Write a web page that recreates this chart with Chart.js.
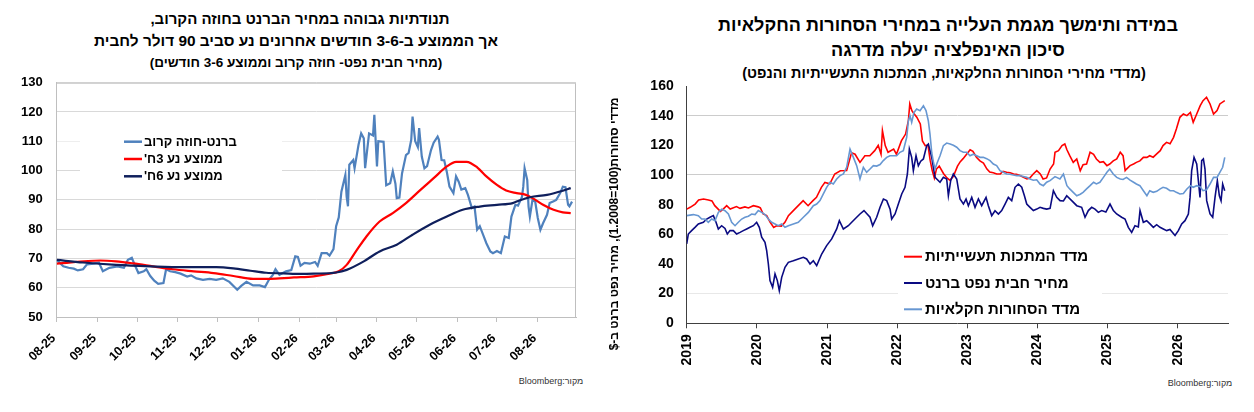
<!DOCTYPE html>
<html lang="he">
<head>
<meta charset="utf-8">
<script src="https://cdn.jsdelivr.net/npm/chart.js@4.4.1/dist/chart.umd.min.js"></script>
<style>
html,body{margin:0;padding:0;background:#fff;}
body{width:1254px;height:412px;position:relative;overflow:hidden;font-family:"Liberation Sans",Arial,sans-serif;}
.t{position:absolute;direction:rtl;text-align:center;font-weight:bold;color:#000;white-space:nowrap;line-height:1;transform:translate(-50%,-50%);}
.src{position:absolute;direction:rtl;font-size:9px;color:#333;white-space:nowrap;line-height:1;transform:translate(-50%,-50%);}
#lc{position:absolute;left:0;top:0;}
#rc{position:absolute;left:600px;top:0;}
</style>
</head>
<body>
<div class="t" style="left:300px;top:18px;font-size:15px;">תנודתיות גבוהה במחיר הברנט בחוזה הקרוב,</div>
<div class="t" style="left:296px;top:41px;font-size:15.4px;">אך הממוצע ב-3-6 חודשים אחרונים נע סביב 90 דולר לחבית</div>
<div class="t" style="left:296px;top:63px;font-size:13.5px;">(מחיר חבית נפט- חוזה קרוב וממוצע 3-6 חודשים)</div>
<div class="src" style="left:551px;top:381px;">מקור:Bloomberg</div>

<div class="t" style="left:948px;top:25px;font-size:18px;">במידה ותימשך מגמת העלייה במחירי הסחורות החקלאיות</div>
<div class="t" style="left:948px;top:50px;font-size:18px;">סיכון האינפלציה יעלה מדרגה</div>
<div class="t" style="left:944px;top:73px;font-size:14.5px;">(מדדי מחירי הסחורות החלקאיות, המתכות התעשייתיות והנפט)</div>
<div class="src" style="left:1200px;top:383px;">מקור:Bloomberg</div>

<canvas id="lc" width="600" height="412" style="width:600px;height:412px;"></canvas>
<canvas id="rc" width="654" height="412" style="width:654px;height:412px;"></canvas>

<script>
// ================= LEFT CHART DATA (x = days since 2025-08-01) =================
const leftMonthLabels = ['08-25','09-25','10-25','11-25','12-25','01-26','02-26','03-26','04-26','05-26','06-26','07-26','08-26'];
const leftSeriesLabels = ['ברנט-חוזה קרוב', "ממוצע נע 3ח'", "ממוצע נע 6ח'"];

const brentDays = [0,5,9,13,16,20,23,28,32,35,40,46,51,54,57,59,62,66,68,71,74,77,81,83,86,90,94,99,102,106,111,116,121,126,131,137,140,144,149,154,158,161,164,166,169,174,178,181,183,185,188,192,196,198,201,205,207,210,212,214,216,219,220,221,222,225,226,229,231,233,234,235,237,240,241,243,244,248,250,253,255,257,258,260,262,265,267,269,270,272,274,275,277,279,281,284,286,289,290,292,294,296,298,301,303,305,307,310,312,315,317,319,321,324,326,329,331,334,337,340,343,345,348,350,353,354,355,357,358,359,361,363,365,367,369,372,374,377,379,382,384,386,388,389,391];
const brentPrice = [69.5,67.3,66.8,66.5,65.9,66.3,68,68.2,68.6,65.6,66.8,67.3,66.8,69.5,70.2,68,65,65.6,66.3,64,62.4,61.3,61.6,66.3,65.6,65.3,64.8,63.8,64.2,63.2,62.7,63,62.7,63.2,62,59.3,60.6,62,60.8,60.8,60.2,62.7,64.4,66.3,64.4,65.6,66,70.7,70.5,67.5,68.5,68.2,68.8,67.5,71.8,71.8,71,73.2,81,84,92.8,98.5,91,87.8,102,103.6,100.8,108.8,112.7,111,100.8,104.8,112.7,112,119,101.4,110,109.8,95,95.7,99.7,95.5,90.6,90.8,99,105.3,106,110.5,118.4,110,108,114.5,104.8,100.8,101.5,107,109.5,111.6,110.5,103.6,103.5,99.5,94.5,92.3,98,96.2,93.5,94,91.7,87.2,87.7,79.8,81,77.5,75.2,72.4,71.8,72.5,71.8,77.5,77,84.3,88.3,88,91,94.5,100.8,96.8,87.7,84.3,90,89.5,83.8,79.8,82,84.9,88.9,89.5,90,92.3,94.5,94.3,88.3,87.8,89.4];

const ma3Days  = [0,33,45,58,73,88,104,119,134,149,159,169,180,195,207,214,220,227,235,245,255,265,276,286,296,303,311,319,326,334,341,349,356,361,369,377,384,390];
const ma3Price = [68.2,69.3,69,68.3,67.3,66.3,65.6,65,64,63,63,63.2,63.5,63.9,64.8,65.6,67.8,72.4,77.5,82.6,85.5,88.9,93.4,97.4,101.4,103,103,101.1,98,95.1,93.2,92.3,91.7,90.6,88.3,86.6,85.7,85.5];

const ma6Days  = [0,20,45,71,96,121,134,147,159,172,185,195,212,220,233,245,258,270,283,296,308,321,334,346,351,359,372,384,390];
const ma6Price = [69.5,68.6,67.8,67.3,67,67,66.6,65.8,65.1,64.9,64.7,64.8,65.2,66.1,69,72.4,74.7,78.1,81.5,84.3,86.6,87.7,88.3,88.9,89.8,90.9,91.7,93.1,94];

// ================= RIGHT CHART DATA (x = years since 2019-01-01) =================
const yearLabels = ['2019','2020','2021','2022','2023','2024','2025','2026'];
const rightSeriesLabels = ['מדד המתכות תעשייתיות','מחיר חבית נפט ברנט','מדד הסחורות חקלאיות'];
const rightAxisTitle = 'מדדי סחורות(100=1.2008), מחיר נפט ברנט ב-$';

const metalsT = [0,0.05,0.12,0.17,0.24,0.31,0.36,0.40,0.48,0.52,0.57,0.62,0.71,0.76,0.83,0.88,0.95,1.02,1.05,1.09,1.14,1.19,1.24,1.28,1.35,1.40,1.45,1.52,1.59,1.66,1.73,1.80,1.85,1.92,1.97,2.04,2.11,2.19,2.28,2.35,2.40,2.47,2.54,2.61,2.68,2.73,2.77,2.79,2.83,2.87,2.95,2.99,3.06,3.12,3.16,3.18,3.21,3.23,3.28,3.33,3.36,3.40,3.44,3.47,3.50,3.53,3.56,3.60,3.66,3.71,3.75,3.80,3.86,3.90,3.94,3.99,4.04,4.08,4.13,4.18,4.23,4.28,4.32,4.37,4.42,4.47,4.51,4.56,4.61,4.66,4.70,4.75,4.80,4.85,4.89,4.94,4.99,5.04,5.08,5.13,5.18,5.23,5.25,5.30,5.35,5.39,5.42,5.46,5.51,5.56,5.61,5.65,5.70,5.75,5.80,5.84,5.89,5.94,5.99,6.03,6.08,6.13,6.18,6.22,6.25,6.27,6.32,6.37,6.41,6.46,6.51,6.56,6.60,6.65,6.70,6.75,6.79,6.84,6.89,6.94,6.98,7.03,7.08,7.13,7.18,7.22,7.27,7.32,7.36,7.41,7.46,7.51,7.56,7.60,7.67];
const metalsV = [77,78.2,80.4,83.1,83.8,83.1,82.5,79.3,75.5,77,79.3,77,78.7,77.5,78.5,77.8,79.3,78.5,77.8,73.7,72.6,68.1,64.7,65.8,65.5,68.1,72.6,76,79.3,82.7,79.3,82.7,84.9,91.7,95,94,100.7,102.9,103,115,114,108.5,113,113,116.4,120,114,130,119.8,115.3,117.5,114,123,127.6,136.6,147.9,143.4,142,139,134.4,123,119.8,120,110,103,98,104,106,101,98,96.5,99,106,109,111,114,117,116,112,109.5,108,104,102,101.5,100.7,100.7,102.5,101.8,101.5,100.7,100.5,99.6,98.4,97.3,98,100.7,102.9,100.7,97.3,98,104,107.4,115.3,116.4,119.8,120.9,117,113,108.5,110.8,102.9,107,107.4,115.3,114,110.8,108.5,109,106.3,107.4,109.5,110.8,115.3,113,102.9,104,106.3,107.4,108.5,109.5,111.9,111.9,113,112,114.2,116.4,119.8,122,121,125.4,131,138.9,141.1,140,142.2,135.5,141.1,146.7,150.1,152.4,147.9,141.1,143.4,147.9,150.1];

const brentT = [0,0.023,0.07,0.118,0.166,0.237,0.285,0.332,0.38,0.418,0.451,0.498,0.546,0.579,0.617,0.665,0.712,0.76,0.807,0.855,0.902,0.95,0.997,1.035,1.069,1.116,1.14,1.164,1.187,1.225,1.259,1.292,1.32,1.354,1.401,1.449,1.52,1.591,1.663,1.71,1.758,1.805,1.853,1.924,1.995,2.067,2.138,2.176,2.233,2.304,2.352,2.423,2.47,2.527,2.565,2.613,2.651,2.708,2.756,2.804,2.851,2.899,2.922,2.97,3.017,3.065,3.112,3.146,3.174,3.207,3.231,3.269,3.302,3.336,3.374,3.421,3.445,3.469,3.493,3.516,3.54,3.564,3.611,3.659,3.706,3.73,3.763,3.801,3.849,3.896,3.944,3.982,4.015,4.063,4.11,4.158,4.205,4.267,4.3,4.348,4.395,4.443,4.49,4.538,4.585,4.633,4.68,4.728,4.776,4.814,4.847,4.894,4.942,4.99,5.037,5.085,5.132,5.18,5.227,5.275,5.322,5.37,5.417,5.488,5.56,5.63,5.678,5.725,5.773,5.82,5.868,5.915,5.975,6.034,6.082,6.129,6.2,6.248,6.295,6.343,6.39,6.438,6.462,6.509,6.557,6.604,6.652,6.699,6.747,6.794,6.842,6.889,6.961,7.008,7.056,7.103,7.151,7.175,7.198,7.232,7.27,7.317,7.341,7.365,7.388,7.412,7.46,7.498,7.531,7.564,7.593,7.617,7.64,7.669];
const brentV = [53.5,60.2,62.5,64.7,67,68.1,70.3,71.5,72.6,68.1,63.6,65.8,64,60.2,62.5,62.5,60.2,61.3,62.5,63.6,64.7,65.8,68.1,64.7,58,54.6,49,40,28.8,24.3,33.3,28.8,22,31,37.8,41.1,42.2,43.4,44.5,43.4,40,42.2,38.9,46.7,52.4,56.9,63.6,69.2,63.6,65.8,68.1,71.5,73.7,76,74,71.5,65.8,71.5,78.2,83.8,82.7,77,70.3,73.7,80.4,87.2,91.7,100.7,117.5,111.9,102.9,113,106.3,109.3,110.8,119.8,120.9,116.4,111.9,105.2,98.4,97.3,95.1,98.4,97.3,86,96.2,100.7,97.3,83.8,80.4,83.8,79.3,84.9,78.2,83.8,79.3,84.9,79.3,72.6,75.9,73.7,76,80.4,84.9,82.7,91.7,93.9,91.7,86,80.4,78.2,76,77,78.2,77.5,77,77.5,89.4,84.9,82.7,82.5,86,82.7,79.3,78.2,71.5,76,78.2,77,74.8,76,75,80.4,76,73.7,71.5,70.3,64.7,61.3,65.8,65,76,68.1,69.2,67,64.7,66.5,64.7,63.6,62.5,63.3,59.2,62.5,67,69.2,73.7,84.9,102.9,111.9,107.4,84.9,109.7,110.8,104,82.7,73.7,71.5,84.9,96.2,86,82.7,93.9,89.4];

const agriT = [0,0.095,0.166,0.213,0.261,0.308,0.356,0.404,0.451,0.498,0.546,0.594,0.641,0.689,0.736,0.784,0.831,0.879,0.926,0.974,1.021,1.069,1.116,1.164,1.211,1.259,1.306,1.354,1.401,1.449,1.52,1.591,1.663,1.734,1.805,1.853,1.9,1.948,1.995,2.043,2.09,2.138,2.186,2.233,2.28,2.328,2.376,2.423,2.47,2.518,2.565,2.613,2.661,2.708,2.756,2.803,2.851,2.898,2.946,2.993,3.04,3.088,3.136,3.16,3.183,3.207,3.24,3.278,3.326,3.374,3.411,3.444,3.468,3.493,3.516,3.54,3.564,3.611,3.659,3.706,3.755,3.801,3.849,3.896,3.943,3.991,4.038,4.086,4.134,4.181,4.228,4.276,4.324,4.371,4.418,4.466,4.513,4.561,4.608,4.656,4.704,4.751,4.799,4.846,4.894,4.941,4.989,5.036,5.084,5.131,5.179,5.25,5.32,5.37,5.42,5.46,5.51,5.56,5.61,5.65,5.70,5.75,5.80,5.84,5.89,5.94,5.99,6.03,6.08,6.13,6.18,6.22,6.27,6.32,6.37,6.41,6.46,6.51,6.56,6.60,6.65,6.70,6.75,6.79,6.84,6.89,6.94,6.98,7.03,7.08,7.13,7.18,7.22,7.27,7.32,7.36,7.41,7.46,7.51,7.56,7.64,7.67];
const agriV = [72.6,73.3,72.6,70.3,70.3,68.1,70.3,69.2,74.8,77,75.9,73.7,68.1,65.8,68.1,70.3,71.5,72.2,73.7,73.3,76,74.8,73.3,70.3,68.1,67,65.8,67,64.7,65.8,67,68.1,71.5,74.8,79.3,80.4,82.7,87.2,91.7,95.1,94,97.3,99.6,100.7,105.2,117.5,111.9,106.3,97.3,105.2,101.8,104,106.3,106,107,109.7,111.9,113,113,113,115.3,116.4,125.4,136.6,140,135.5,142.2,144.5,143.4,146.7,143.4,136.6,127.6,115,109,104,107.4,113,119.8,121.5,120.9,120,118.7,116.4,115.3,115.3,113,114,113,111.9,111.9,111,109.7,107.4,106.3,102.9,101.8,100.7,100.5,100,99.6,99.6,99,98.4,97.3,96.5,96.8,93.9,92.8,95.1,96.2,98.9,97.3,100.7,92.8,90.6,88.3,86,87,88.3,90.6,92.8,95.1,94,95.1,98.4,101.8,104,100.7,98.4,97.3,97,98.4,96.5,95.1,93.9,92.8,89.4,86,89.4,88.3,89,90.6,91.7,91,89.4,89.4,88.3,87.2,87.5,90.6,92.8,91.7,92.8,92,89.4,90,93.9,98.4,98.4,105.2,111.9];

// ================= helpers & plugins =================
const FONT = '"Liberation Sans", Arial, sans-serif';
const pts = (xs, ys) => xs.map((x, i) => ({x: x, y: ys[i]}));

const framePlugin = {
  id: 'frame',
  beforeDatasetsDraw(chart, args, o) {
    const ctx = chart.ctx, a = chart.chartArea;
    ctx.save();
    if (o.border) {
      ctx.strokeStyle = o.border; ctx.lineWidth = 1;
      ctx.beginPath();
      ctx.moveTo(a.left, a.top + 0.5); ctx.lineTo(a.right - 0.5, a.top + 0.5); ctx.lineTo(a.right - 0.5, a.bottom);
      ctx.stroke();
    }
    if (o.box) { ctx.fillStyle = '#fff'; ctx.fillRect(o.box[0], o.box[1], o.box[2], o.box[3]); }
    ctx.restore();
  }
};

const legendPlugin = {
  id: 'inlineLegend',
  afterDatasetsDraw(chart, args, o) {
    const ctx = chart.ctx;
    ctx.save();
    ctx.font = o.font; ctx.textBaseline = 'middle'; ctx.textAlign = 'left'; ctx.direction = 'rtl';
    chart.data.datasets.forEach((ds, i) => {
      const y = o.y + i * o.dy;
      ctx.strokeStyle = ds.borderColor; ctx.lineWidth = o.lw;
      ctx.beginPath(); ctx.moveTo(o.x, y); ctx.lineTo(o.x + o.len, y); ctx.stroke();
      ctx.fillStyle = '#000';
      ctx.fillText(ds.label, o.x + o.len + o.gap, y + 0.5);
    });
    ctx.restore();
  }
};

const sideTitlePlugin = {
  id: 'sideTitle',
  afterDraw(chart, args, o) {
    if (!o.text) return;
    const ctx = chart.ctx;
    ctx.save();
    ctx.translate(o.x, o.y); ctx.rotate(-Math.PI / 2);
    ctx.font = o.font; ctx.fillStyle = '#000'; ctx.textAlign = 'center'; ctx.textBaseline = 'middle'; ctx.direction = 'rtl';
    ctx.fillText(o.text, 0, 0);
    ctx.restore();
  }
};

// ================= LEFT CHART =================
const baseDay = Date.UTC(2025, 7, 1);
const monthTicks = leftMonthLabels.map(l => {
  const p = l.split('-').map(Number);
  return (Date.UTC(2000 + p[1], p[0] - 1, 1) - baseDay) / 864e5;
});

new Chart(document.getElementById('lc'), {
  type: 'line',
  data: {
    datasets: [
      {label: leftSeriesLabels[0], data: pts(brentDays, brentPrice), borderColor: '#4F81BD', borderWidth: 2.2, pointRadius: 0, tension: 0, order: 2},
      {label: leftSeriesLabels[1], data: pts(ma3Days, ma3Price), borderColor: '#FF0000', borderWidth: 2.2, pointRadius: 0, cubicInterpolationMode: 'monotone', order: 1},
      {label: leftSeriesLabels[2], data: pts(ma6Days, ma6Price), borderColor: '#0F1F5C', borderWidth: 2.2, pointRadius: 0, cubicInterpolationMode: 'monotone', order: 0}
    ]
  },
  plugins: [framePlugin, legendPlugin],
  options: {
    responsive: false, animation: false, events: [],
    layout: {padding: {left: 0, top: 82.7, right: 24, bottom: 30}},
    plugins: {
      legend: {display: false}, tooltip: {enabled: false},
      frame: {border: '#bfbfbf', box: [80, 129, 202, 60]},
      inlineLegend: {x: 124, y: 141.7, dy: 17.3, len: 18, gap: 2, lw: 2.5, font: 'bold 13px ' + FONT}
    },
    scales: {
      x: {
        type: 'linear', min: 0, max: 394,
        afterFit: s => { s.height = 65; },
        afterBuildTicks: s => { s.ticks = monthTicks.map(v => ({value: v})); },
        ticks: {autoSkip: false, minRotation: 45, maxRotation: 45, padding: 9, labelOffset: -3, color: '#000',
                font: {family: FONT, weight: 'bold', size: 12.5},
                callback: (v, i) => leftMonthLabels[i]},
        grid: {drawOnChartArea: false, drawTicks: true, tickLength: 5, color: '#bfbfbf'},
        border: {color: '#bfbfbf'}
      },
      y: {
        min: 50, max: 130,
        afterFit: s => { s.width = 56.7; },
        ticks: {stepSize: 10, padding: 14, color: '#000', font: {family: FONT, weight: 'bold', size: 13}},
        grid: {drawTicks: false, color: c => (c.tick && c.tick.value === 110) ? '#eeeeee' : '#d9d9d9'},
        border: {color: '#bfbfbf'}
      }
    }
  }
});

// ================= RIGHT CHART =================
new Chart(document.getElementById('rc'), {
  type: 'line',
  data: {
    datasets: [
      {label: rightSeriesLabels[0], data: pts(metalsT, metalsV), borderColor: '#FF0000', borderWidth: 1.6, pointRadius: 0, tension: 0, order: 2},
      {label: rightSeriesLabels[1], data: pts(brentT, brentV), borderColor: '#0A0A82', borderWidth: 1.6, pointRadius: 0, tension: 0, order: 1},
      {label: rightSeriesLabels[2], data: pts(agriT, agriV), borderColor: '#6797D2', borderWidth: 1.6, pointRadius: 0, tension: 0, order: 0}
    ]
  },
  plugins: [framePlugin, legendPlugin, sideTitlePlugin],
  options: {
    responsive: false, animation: false, events: [],
    layout: {padding: {left: 0, top: 86, right: 26, bottom: 28.7}},
    plugins: {
      legend: {display: false}, tooltip: {enabled: false},
      frame: {box: [298, 243, 204, 77]},
      inlineLegend: {x: 304, y: 256.7, dy: 26.3, len: 18, gap: 3, lw: 2, font: 'bold 15px ' + FONT},
      sideTitle: {text: rightAxisTitle, x: 15, y: 224, font: 'bold 12px ' + FONT}
    },
    scales: {
      x: {
        type: 'linear', min: 0, max: 7.716,
        afterFit: s => { s.height = 60; },
        afterBuildTicks: s => { s.ticks = yearLabels.map((_, i) => ({value: i})); },
        ticks: {autoSkip: false, minRotation: 90, maxRotation: 90, padding: 6, color: '#000',
                font: {family: FONT, weight: 'bold', size: 14},
                callback: (v, i) => yearLabels[i]},
        grid: {drawOnChartArea: false, drawTicks: true, tickLength: 5, color: '#404040'},
        border: {color: '#404040'}
      },
      y: {
        min: 0, max: 160,
        afterFit: s => { s.width = 86.7; },
        ticks: {stepSize: 20, padding: 13, color: '#000', font: {family: FONT, weight: 'bold', size: 14}},
        grid: {drawTicks: false, color: c => {
          const v = c.tick ? c.tick.value : -1;
          if (v % 40 !== 20) return 'rgba(0,0,0,0)';
          return v >= 100 ? '#cccccc' : '#e8e8e8';
        }},
        border: {color: '#404040'}
      }
    }
  }
});
</script>
</body>
</html>
